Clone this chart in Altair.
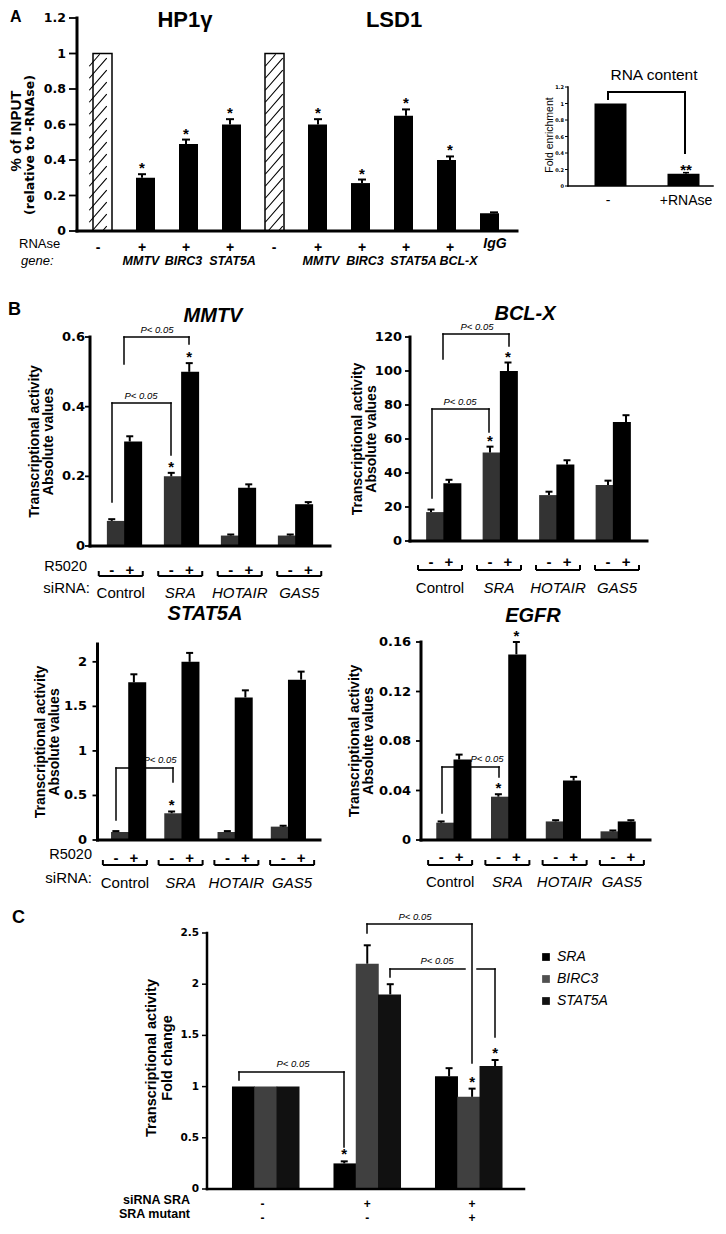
import altair as alt
import pandas as pd

FONT = "Liberation Sans"
TFONT = "DejaVu Sans"
M = 8
W, H = 710, 1218
ONE = pd.DataFrame({"k": [0]})
layers = []

# ---------------- data ----------------
A_sign = ["-", "+", "+", "+", "-", "+", "+", "+", "+", ""]
A_value = [1.0, 0.30, 0.49, 0.60, 1.0, 0.60, 0.27, 0.65, 0.40, 0.10]
A_err = [0.0, 0.02, 0.025, 0.03, 0.0, 0.03, 0.02, 0.035, 0.02, 0.005]
A_star = ["", "*", "*", "*", "", "*", "*", "*", "*", ""]
A_hatched = [True, False, False, False, True, False, False, False, False, False]
A_genes_hp1 = ["MMTV", "BIRC3", "STAT5A"]
A_genes_lsd1 = ["MMTV", "BIRC3", "STAT5A", "BCL-X"]
A_ticks = [0, 0.2, 0.4, 0.6, 0.8, 1.0, 1.2]
A_tick_labels = ["0", "0.2", "0.4", "0.6", "0.8", "1", "1.2"]

I_cat = ["-", "+RNAse"]
I_value = [1.0, 0.15]
I_err = [0.0, 0.012]
I_star = ["", "**"]

GROUPS = ["Control", "SRA", "HOTAIR", "GAS5"]
MMTV_neg = [0.072, 0.20, 0.03, 0.03]
MMTV_neg_err = [0.005, 0.01, 0.003, 0.003]
MMTV_pos = [0.30, 0.50, 0.167, 0.12]
MMTV_pos_err = [0.015, 0.025, 0.01, 0.006]
BCLX_neg = [17, 52, 27, 33]
BCLX_neg_err = [1.5, 3.5, 2, 2.5]
BCLX_pos = [34, 100, 45, 70]
BCLX_pos_err = [2, 5, 2.5, 4]
STAT_neg = [0.09, 0.30, 0.09, 0.15]
STAT_neg_err = [0.01, 0.02, 0.01, 0.01]
STAT_pos = [1.77, 2.0, 1.6, 1.8]
STAT_pos_err = [0.09, 0.10, 0.08, 0.09]
EGFR_neg = [0.014, 0.035, 0.015, 0.007]
EGFR_neg_err = [0.001, 0.002, 0.001, 0.0007]
EGFR_pos = [0.065, 0.15, 0.048, 0.015]
EGFR_pos_err = [0.004, 0.01, 0.003, 0.001]

C_series = ["SRA", "BIRC3", "STAT5A"]
C_colors = ["#000000", "#404040", "#111111"]
C_sirna = ["-", "+", "+"]
C_mutant = ["-", "-", "+"]
C_SRA = [1.0, 0.25, 1.1]
C_SRA_err = [0.0, 0.02, 0.08]
C_BIRC3 = [1.0, 2.2, 0.9]
C_BIRC3_err = [0.0, 0.18, 0.08]
C_STAT5A = [1.0, 1.9, 1.2]
C_STAT5A_err = [0.0, 0.10, 0.06]
C_stars = {"SRA": [0, 1, 0], "BIRC3": [0, 0, 1], "STAT5A": [0, 0, 1]}


# ---------------- helpers ----------------
def p(v):
    return v - M


def lin(dom, rng):
    return alt.Scale(domain=list(dom), range=[p(rng[0]), p(rng[1])], nice=False, zero=False)


def label(t, x, y, size, bold=False, italic=False, align="center", baseline="alphabetic", angle=None, font=FONT):
    kw = dict(text=t, fontSize=size, font=font, align=align, baseline=baseline, color="black",
              fontWeight="bold" if bold else "normal", fontStyle="italic" if italic else "normal")
    if angle is not None:
        kw["angle"] = angle
    layers.append(alt.Chart(ONE).mark_text(**kw).encode(x=alt.value(p(x)), y=alt.value(p(y))))


def seg(x1, y1, x2, y2, w=1.5):
    layers.append(alt.Chart(ONE).mark_rule(color="black", strokeWidth=w, strokeCap="square").encode(
        x=alt.value(p(x1)), y=alt.value(p(y1)), x2=alt.value(p(x2)), y2=alt.value(p(y2))))


def bracket(x1, yb1, x2, yb2, yt, txt=None, tx=None, ty=None, w=1.5, gap=None):
    seg(x1, yb1, x1, yt, w)
    if gap:
        seg(x1, yt, gap[0], yt, w)
        seg(gap[1], yt, x2, yt, w)
    else:
        seg(x1, yt, x2, yt, w)
    seg(x2, yt, x2, yb2, w)
    if txt:
        label(txt, tx, ty, 9.5, italic=True)


def yaxis(ys, ax, ybot, ytop, ticks, labs, lab_x, size, w, tl=5):
    seg(ax, ybot, ax, ytop, w)
    tdf = pd.DataFrame({"v": ticks, "lab": labs})
    Y = alt.Y("v:Q", scale=ys, axis=None)
    layers.append(alt.Chart(tdf).mark_rule(color="black", strokeWidth=max(1.0, w * 0.6)).encode(
        x=alt.value(p(ax - tl)), x2=alt.value(p(ax)), y=Y))
    layers.append(alt.Chart(tdf).mark_text(font=TFONT, fontSize=size, fontWeight="bold", align="right",
                                           baseline="middle", color="black").encode(
        x=alt.value(p(lab_x)), y=Y, text="lab:N"))


def hatch_path(w, h, d=12.0, k=1.15):
    hw, hh = w / 2.0, h / 2.0
    segs = []
    c = -hh - k * hw
    while c <= hh + k * hw:
        xa = max(-hw, (c - hh) / k)
        xb = min(hw, (c + hh) / k)
        if xb - xa > 0.5:
            segs.append("M%.2f,%.2fL%.2f,%.2f" % (xa, c - k * xa, xb, c - k * xb))
        c += d
    return "".join(segs)


def errorbars(base, xf, xs, ys, capu, w=2):
    eb = base.transform_filter("datum.err > 0").transform_calculate(
        top="datum.value + datum.err", cl="datum.%s - %f" % (xf, capu), cr="datum.%s + %f" % (xf, capu))
    layers.append(eb.mark_rule(color="black", strokeWidth=w).encode(
        x=alt.X("%s:Q" % xf, scale=xs, axis=None), y=alt.Y("value:Q", scale=ys, axis=None), y2="top:Q"))
    layers.append(eb.mark_rule(color="black", strokeWidth=w).encode(
        x=alt.X("cl:Q", scale=xs, axis=None), x2="cr:Q", y=alt.Y("top:Q", scale=ys, axis=None)))


def stars(base, xf, xs, ys, size=15, dy=-1):
    st = base.transform_filter("datum.star != ''").transform_calculate(top="datum.value + datum.err")
    layers.append(st.mark_text(font=FONT, fontSize=size, fontWeight="bold", baseline="alphabetic",
                               dy=dy, color="black").encode(
        x=alt.X("%s:Q" % xf, scale=xs, axis=None), y=alt.Y("top:Q", scale=ys, axis=None), text="star:N"))


# ---------------- Panel A ----------------
label("A", 10, 8.5, 16, bold=True, align="left", baseline="top")
label("HP1\u03b3", 185, 27, 22, bold=True)
label("LSD1", 394, 27, 22, bold=True)
label("% of INPUT", 16, 131, 15, bold=True, angle=270, baseline="middle")
label("(relative to -RNAse)", 30, 145, 12.5, bold=True, angle=270, baseline="middle", font=TFONT)

a_df = pd.DataFrame({"i": list(range(len(A_value))), "value": A_value, "err": A_err, "star": A_star,
                     "hatched": A_hatched, "sign": A_sign})
a_xs = lin([-0.5, 9.5], [76, 516])
a_ys = lin([0, 1.2], [231, 18])
AX = alt.X("i:Q", scale=a_xs, axis=None)
AY = alt.Y("value:Q", scale=a_ys, axis=None)
a_base = alt.Chart(a_df)
layers.append(a_base.transform_filter("!datum.hatched").mark_bar(size=19, color="black").encode(
    x=AX, y=AY, y2=alt.datum(0)))
layers.append(a_base.transform_filter("datum.hatched").mark_bar(size=19, fill="white", stroke="black",
                                                                 strokeWidth=1.5).encode(x=AX, y=AY, y2=alt.datum(0)))
layers.append(a_base.transform_filter("datum.hatched").transform_calculate(mid="datum.value / 2").mark_point(
    shape=hatch_path(17.5, 1.0 * (231 - 18) / 1.2 - 1.5), size=4, filled=False, color="black", strokeWidth=1.1,
    opacity=1).encode(x=AX, y=alt.Y("mid:Q", scale=a_ys, axis=None)))
errorbars(a_base, "i", a_xs, a_ys, 4.0 / 44)
stars(a_base, "i", a_xs, a_ys)
yaxis(a_ys, 77, 231, 18, A_ticks, A_tick_labels, 66, 12.5, 3, tl=8)
seg(77, 231, 517, 231, 3)
layers.append(a_base.mark_text(font=FONT, fontSize=14, fontWeight="bold", color="black").encode(
    x=AX, y=alt.value(p(248)), text="sign:N"))
# gene names (typed as a text line under the bars)
for g, cx in zip(A_genes_hp1, [141, 183.5, 232.5]):
    label(g, cx, 264.5, 12.5, bold=True, italic=True)
for g, cx in zip(A_genes_lsd1, [321, 365, 413.5, 458.5]):
    label(g, cx, 264.5, 12.5, bold=True, italic=True)
label("IgG", 495, 248, 14, bold=True, italic=True)
label("RNAse", 19, 248, 13, align="left")
label("gene:", 21, 264.5, 13, italic=True, align="left")

# ---------------- Panel A inset ----------------
i_df = pd.DataFrame({"i": [0, 1], "cat": I_cat, "value": I_value, "err": I_err, "star": I_star})
i_xs = lin([-0.5, 1.5], [569, 725])
i_ys = lin([0, 1.2], [186, 87])
IX = alt.X("i:Q", scale=i_xs, axis=None)
i_base = alt.Chart(i_df)
bracket(608, 99, 685, 153, 92, w=2)
layers.append(i_base.mark_bar(size=32, color="black").encode(
    x=IX, y=alt.Y("value:Q", scale=i_ys, axis=None), y2=alt.datum(0)))
errorbars(i_base, "i", i_xs, i_ys, 3.0 / 78, w=1.5)
stars(i_base, "i", i_xs, i_ys, size=15, dy=2)
yaxis(i_ys, 568, 186, 87, A_ticks, A_tick_labels, 564, 5, 1.5, tl=3)
seg(568, 186, 713, 186, 1.5)
layers.append(i_base.mark_text(font=FONT, fontSize=14, color="black").encode(
    x=IX, y=alt.value(p(201)), text="cat:N"))
label("RNA content", 654, 80, 15.5)
label("Fold enrichment", 550, 135, 10.5, angle=270, baseline="middle")


# ---------------- Panel B ----------------
def bpanel(title, tpos, neg, neg_err, pos, pos_err, star_neg, star_pos, xr, ydom, yr, ax, ax_end,
           ticks, labs, lab_x, yt_x, sign_y, brk_y, grp_y, row_lab_x, brackets):
    n = len(GROUPS)
    step = (xr[1] - xr[0]) / n
    xs = lin([-0.5, n - 0.5], xr)
    ys = lin(ydom, yr)
    rows = []
    for gi, g in enumerate(GROUPS):
        rows.append(dict(gi=gi, group=g, cond="-", value=neg[gi], err=neg_err[gi],
                         star="*" if star_neg[gi] else ""))
        rows.append(dict(gi=gi, group=g, cond="+", value=pos[gi], err=pos_err[gi],
                         star="*" if star_pos[gi] else ""))
    df = pd.DataFrame(rows)
    off = 9.0 / step
    base = alt.Chart(df).transform_calculate(pos="datum.gi + (datum.cond == '+' ? %f : %f)" % (off, -off))
    X = alt.X("pos:Q", scale=xs, axis=None)
    Y = alt.Y("value:Q", scale=ys, axis=None)
    for b in brackets:
        bracket(*b)
    for cond, col in (("-", "#333333"), ("+", "#000000")):
        layers.append(base.transform_filter("datum.cond == '%s'" % cond).mark_bar(size=18, color=col).encode(
            x=X, y=Y, y2=alt.datum(0)))
    errorbars(base, "pos", xs, ys, 3.5 / step)
    stars(base, "pos", xs, ys)
    label(title, tpos[0], tpos[1], 20, bold=True, italic=True)
    yc = (yr[0] + yr[1]) / 2.0
    label("Transcriptional activity", yt_x[0], yc, 14, bold=True, angle=270, baseline="middle")
    label("Absolute values", yt_x[1], yc, 14, bold=True, angle=270, baseline="middle")
    yaxis(ys, ax, yr[0], yr[1], ticks, labs, lab_x, 13, 3)
    seg(ax, yr[0], ax_end, yr[0], 3)
    # signs
    layers.append(base.mark_text(font=FONT, fontSize=15, fontWeight="bold", color="black").encode(
        x=X, y=alt.value(p(sign_y)), text="cond:N"))
    # group brackets below
    g_df = pd.DataFrame({"gi": list(range(n)), "group": GROUPS})
    hw = 22.0 / step
    gb = alt.Chart(g_df).transform_calculate(l="datum.gi - %f" % hw, r="datum.gi + %f" % hw)
    layers.append(gb.mark_rule(color="black", strokeWidth=2).encode(
        x=alt.X("l:Q", scale=xs, axis=None), x2="r:Q", y=alt.value(p(brk_y + 5))))
    for f in ("l", "r"):
        layers.append(gb.mark_rule(color="black", strokeWidth=2).encode(
            x=alt.X("%s:Q" % f, scale=xs, axis=None), y=alt.value(p(brk_y)), y2=alt.value(p(brk_y + 5))))
    GX = alt.X("gi:Q", scale=xs, axis=None)
    layers.append(gb.transform_filter("datum.gi == 0").mark_text(font=FONT, fontSize=15, color="black").encode(
        x=GX, y=alt.value(p(grp_y)), text="group:N"))
    layers.append(gb.transform_filter("datum.gi > 0").mark_text(font=FONT, fontSize=15, fontStyle="italic",
                                                                color="black").encode(
        x=GX, y=alt.value(p(grp_y)), text="group:N"))
    if row_lab_x is not None:
        label("R5020", row_lab_x[0], sign_y + 1, 14.5, align="right")
        label("siRNA:", row_lab_x[1], grp_y, 15, align="right")


label("B", 8, 315, 18, bold=True, align="left")

bpanel("MMTV", (213, 322), MMTV_neg, MMTV_neg_err, MMTV_pos, MMTV_pos_err,
       [0, 1, 0, 0], [0, 1, 0, 0], [91, 329], [0, 0.6], [546, 337], 90, 330,
       [0, 0.2, 0.4, 0.6], ["0", "0.2", "0.4", "0.6"], 85, (35, 49), 570, 571, 593, (87, 90),
       [(124, 364, 189, 344, 337, "P< 0.05", 157, 333),
        (112, 502, 171, 455, 403, "P< 0.05", 141, 399)])

bpanel("BCL-X", (525, 320), BCLX_neg, BCLX_neg_err, BCLX_pos, BCLX_pos_err,
       [0, 1, 0, 0], [0, 1, 0, 0], [410.5, 646.5], [0, 120], [541, 337], 410, 647,
       [0, 20, 40, 60, 80, 100, 120], ["0", "20", "40", "60", "80", "100", "120"], 402, (358, 372),
       562, 565, 588, None,
       [(443, 359, 509, 346, 334, "P< 0.05", 477, 330),
        (432, 498, 489, 432, 409, "P< 0.05", 460, 405)])

bpanel("STAT5A", (205, 620), STAT_neg, STAT_neg_err, STAT_pos, STAT_pos_err,
       [0, 1, 0, 0], [0, 0, 0, 0], [97, 320], [0, 2.2], [840, 644], 97.5, 320,
       [0, 0.5, 1, 1.5, 2], ["0", "0.5", "1", "1.5", "2"], 87, (41, 55), 858, 860, 883, (92, 92),
       [(116, 820, 173, 782, 768, "P< 0.05", 160, 763)])

bpanel("EGFR", (533, 622), EGFR_neg, EGFR_neg_err, EGFR_pos, EGFR_pos_err,
       [0, 1, 0, 0], [0, 1, 0, 0], [421.5, 650.5], [0, 0.16], [840, 642], 421, 650,
       [0, 0.04, 0.08, 0.12, 0.16], ["0", "0.04", "0.08", "0.12", "0.16"], 411, (355, 369),
       857, 860, 882, None,
       [(442, 813, 499, 777, 767, "P< 0.05", 487, 762)])

# ---------------- Panel C ----------------
label("C", 12, 923, 18, bold=True, align="left")
c_rows = []
c_vals = {"SRA": (C_SRA, C_SRA_err), "BIRC3": (C_BIRC3, C_BIRC3_err), "STAT5A": (C_STAT5A, C_STAT5A_err)}
for si, s in enumerate(C_series):
    for gi in range(3):
        c_rows.append(dict(gi=gi, si=si, series=s, value=c_vals[s][0][gi], err=c_vals[s][1][gi],
                           star="*" if C_stars[s][gi] else ""))
c_df = pd.DataFrame(c_rows)
c_xs = lin([-0.5, 2.5], [210, 524.5])
c_ys = lin([0, 2.5], [1189, 933])
c_step = (524.5 - 210) / 3.0
c_base = alt.Chart(c_df).transform_calculate(pos="datum.gi + (datum.si - 1) * %f" % (23.0 / c_step))
CX = alt.X("pos:Q", scale=c_xs, axis=None)
CY = alt.Y("value:Q", scale=c_ys, axis=None)
bracket(239, 1080, 344, 1147, 1072, "P< 0.05", 293, 1067)
bracket(367, 933, 472, 1063, 924, "P< 0.05", 415, 920)
bracket(390, 977, 495, 1037, 969, "P< 0.05", 437, 964, gap=(465, 477))
layers.append(c_base.mark_bar(size=23).encode(
    x=CX, y=CY, y2=alt.datum(0),
    color=alt.Color("series:N", scale=alt.Scale(domain=C_series, range=C_colors), legend=None)))
errorbars(c_base, "pos", c_xs, c_ys, 3.5 / c_step)
stars(c_base, "pos", c_xs, c_ys, size=15, dy=-2)
yaxis(c_ys, 207, 1189, 933, [0, 0.5, 1, 1.5, 2, 2.5], ["0", "0.5", "1", "1.5", "2", "2.5"], 199, 10.5, 2.5)
seg(207, 1189, 524, 1189, 2.5)
label("Transcriptional activity", 152, 1058, 14.5, bold=True, angle=270, baseline="middle")
label("Fold change", 168, 1058, 14.5, bold=True, angle=270, baseline="middle")
cg_df = pd.DataFrame({"gi": [0, 1, 2], "sirna": C_sirna, "mutant": C_mutant})
CGX = alt.X("gi:Q", scale=c_xs, axis=None)
layers.append(alt.Chart(cg_df).mark_text(font=FONT, fontSize=12, fontWeight="bold", color="black").encode(
    x=CGX, y=alt.value(p(1204)), text="sirna:N"))
layers.append(alt.Chart(cg_df).mark_text(font=FONT, fontSize=12, fontWeight="bold", color="black").encode(
    x=CGX, y=alt.value(p(1218)), text="mutant:N"))
label("siRNA SRA", 190, 1204, 12.5, bold=True, align="right")
label("SRA mutant", 190, 1218, 12.5, bold=True, align="right")

# legend
lg_df = pd.DataFrame({"series": C_series})
lg_y = alt.Y("series:N", scale=alt.Scale(type="point", domain=C_series, range=[p(957), p(1001)], padding=0),
             axis=None)
layers.append(alt.Chart(lg_df).mark_square(size=60, opacity=1).encode(
    x=alt.value(p(546)), y=lg_y,
    color=alt.Color("series:N", scale=alt.Scale(domain=C_series, range=["#000000", "#505050", "#111111"]),
                    legend=None)))
layers.append(alt.Chart(lg_df).mark_text(font=FONT, fontSize=14, fontStyle="italic", align="left",
                                         baseline="middle", color="black").encode(
    x=alt.value(p(557)), y=lg_y, text="series:N"))

chart = alt.layer(*layers).resolve_scale(
    x="independent", y="independent", color="independent"
).properties(
    width=W, height=H, padding=0, autosize=alt.AutoSizeParams(type="none")
).configure_view(stroke=None)

chart.save("out.html", embed_options={"renderer": "svg", "actions": False})
